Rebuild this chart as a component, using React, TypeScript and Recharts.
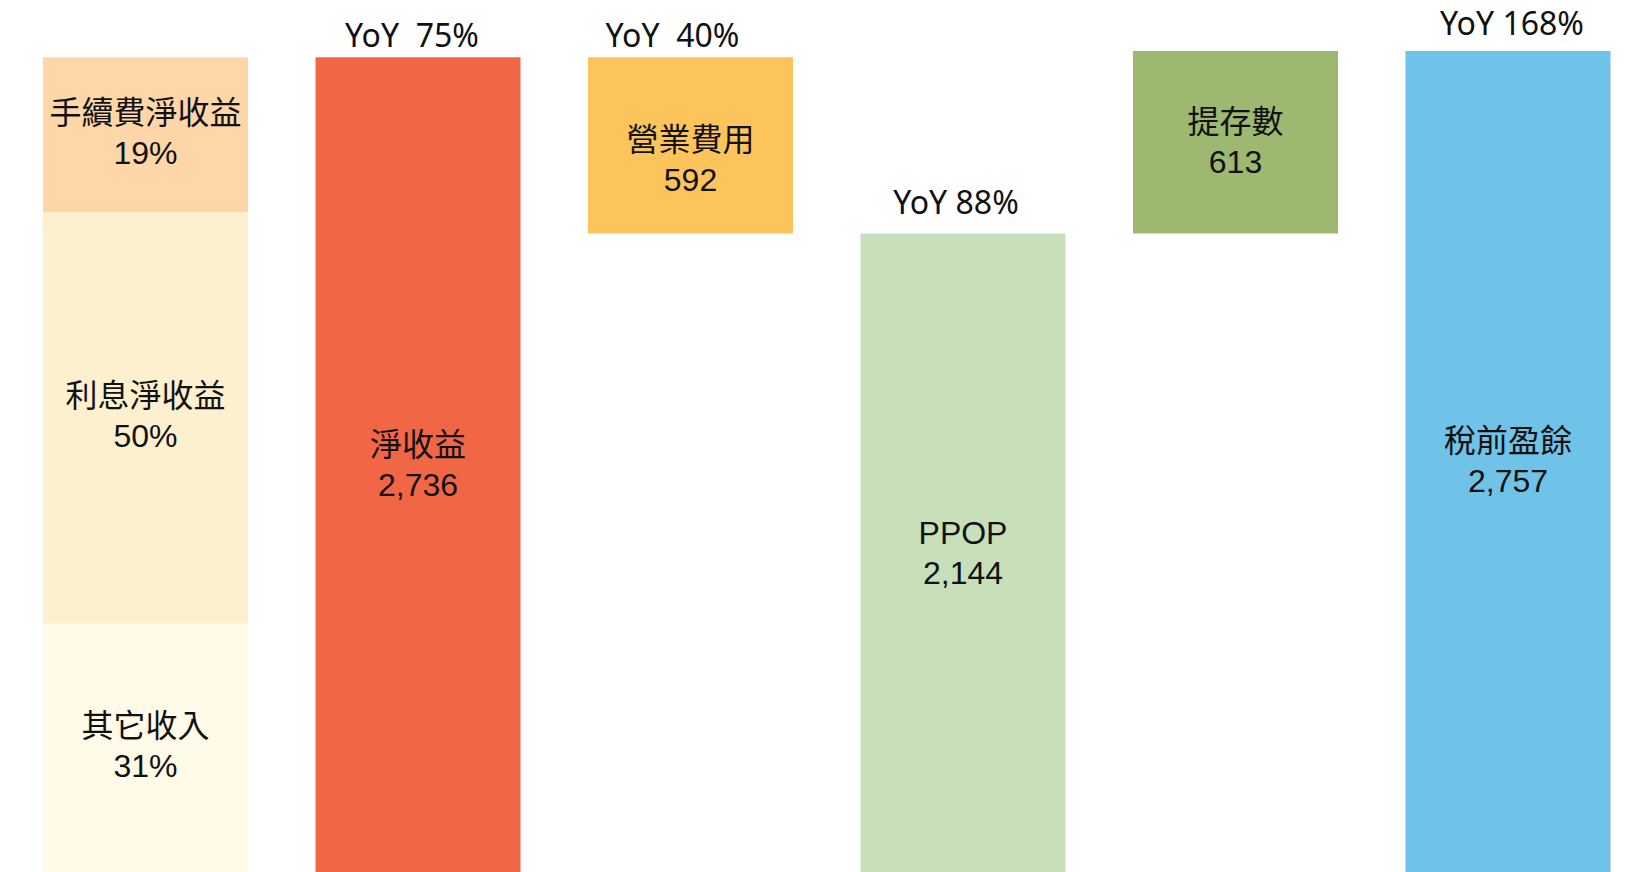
import React from 'react';
import { BarChart, Bar, XAxis, YAxis, Cell, LabelList } from 'recharts';

// Categories (waterfall steps)
const categories = ['收入結構', '淨收益', '營業費用', 'PPOP', '提存數', '稅前盈餘'];
const stepNames = ['', '淨收益', '營業費用', 'PPOP', '提存數', '稅前盈餘'];
// invisible floating base of each step
const baseValues = [0, 0, 2144, 0, 2144, 0];
// visible step values
const stepValues = [0, 2736, 592, 2144, 613, 2757];
const yoyLabels = ['', 'YoY  75%', 'YoY  40%', 'YoY 88%', '', 'YoY 168%'];
const stepColors = ['#ffffff', '#F16745', '#FEC45C', '#C7E0BA', '#9DB871', '#70C3E8'];

// Revenue mix (first bar), bottom to top
const mixNames = ['其它收入', '利息淨收益', '手續費淨收益'];
const mixShares = [31, 50, 19];
const mixValues = [834, 1382, 520];
const mixKeys = ['other', 'interest', 'fee'];
const mixColors = ['#FFFBE8', '#FDF0CE', '#FED6A8'];

// label placement tweaks (styling only)
const stepLabelShift = [0, 0, 15, 0, 0, 0];
const yoyGap = [0, 10, 10, 19, 0, 16];
const yoyShiftX = [0, -6, -18, -7, 0, 4];

const rows = categories.map((c, i) => ({
  name: c,
  base: baseValues[i],
  other: i === 0 ? mixValues[0] : 0,
  interest: i === 0 ? mixValues[1] : 0,
  fee: i === 0 ? mixValues[2] : 0,
  step: stepValues[i],
}));

const FONT = "'Liberation Sans', 'Noto Sans CJK TC', sans-serif";

const fmt = (v: number) => v.toLocaleString('en-US');

const getBox = (props: any) => {
  const vb = props.viewBox || {};
  const x = props.x ?? vb.x;
  const y = props.y ?? vb.y;
  const width = props.width ?? vb.width;
  const height = props.height ?? vb.height;
  return { x: Number(x), y: Number(y), width: Number(width), height: Number(height) };
};

const catIndex = (props: any) => categories.indexOf(String(props.value));

const twoLine = (getLines: (i: number) => [string, string] | null, shift: (i: number) => number) => (props: any) => {
  const i = catIndex(props);
  if (i < 0) return null;
  const lines = getLines(i);
  if (!lines) return null;
  const { x, y, width, height } = getBox(props);
  if (!height || isNaN(height)) return null;
  const cx = x + width / 2;
  const cy = y + height / 2 + shift(i);
  return (
    <g>
      <text x={cx} y={cy - 20} textAnchor="middle" dominantBaseline="central" fontSize={32} fontFamily={FONT} fill="#111">
        {lines[0]}
      </text>
      <text x={cx} y={cy + 20} textAnchor="middle" dominantBaseline="central" fontSize={32} fontFamily={FONT} fill="#111">
        {lines[1]}
      </text>
    </g>
  );
};

const yoyLabel = (props: any) => {
  const i = catIndex(props);
  const t = yoyLabels[i];
  if (!t) return null;
  const { x, y, width } = getBox(props);
  return (
    <text
      x={x + width / 2 + yoyShiftX[i]}
      y={y - yoyGap[i]}
      textAnchor="middle"
      fontSize={32}
      fontFamily="'Noto Sans', sans-serif"
      fill="#111"
      style={{ whiteSpace: 'pre' }}
    >
      {t}
    </text>
  );
};

export default function App() {
  return (
    <div style={{ position: 'absolute', left: 0, top: 0, width: 1630, height: 872, overflow: 'hidden', background: '#fff' }}>
      <BarChart
        width={1644}
        height={872}
        data={rows}
        margin={{ top: 0, right: 0, bottom: 0, left: 9 }}
        barSize={205}
      >
        <XAxis dataKey="name" hide />
        <YAxis hide domain={[0, 2928]} allowDataOverflow />
        <Bar dataKey="base" stackId="a" fill="transparent" isAnimationActive={false} />
        {mixKeys.map((k, mi) => (
          <Bar key={k} dataKey={k} stackId="a" fill={mixColors[mi]} isAnimationActive={false}>
            <LabelList
              dataKey="name"
              content={twoLine((i) => (i === 0 ? [mixNames[mi], `${mixShares[mi]}%`] : null), () => -2)}
            />
          </Bar>
        ))}
        <Bar dataKey="step" stackId="a" isAnimationActive={false}>
          {rows.map((r, i) => (
            <Cell key={r.name} fill={stepColors[i]} />
          ))}
          <LabelList
            dataKey="name"
            content={twoLine(
              (i) => (stepValues[i] ? [stepNames[i], fmt(stepValues[i])] : null),
              (i) => stepLabelShift[i]
            )}
          />
          <LabelList dataKey="name" content={yoyLabel} />
        </Bar>
      </BarChart>
    </div>
  );
}
